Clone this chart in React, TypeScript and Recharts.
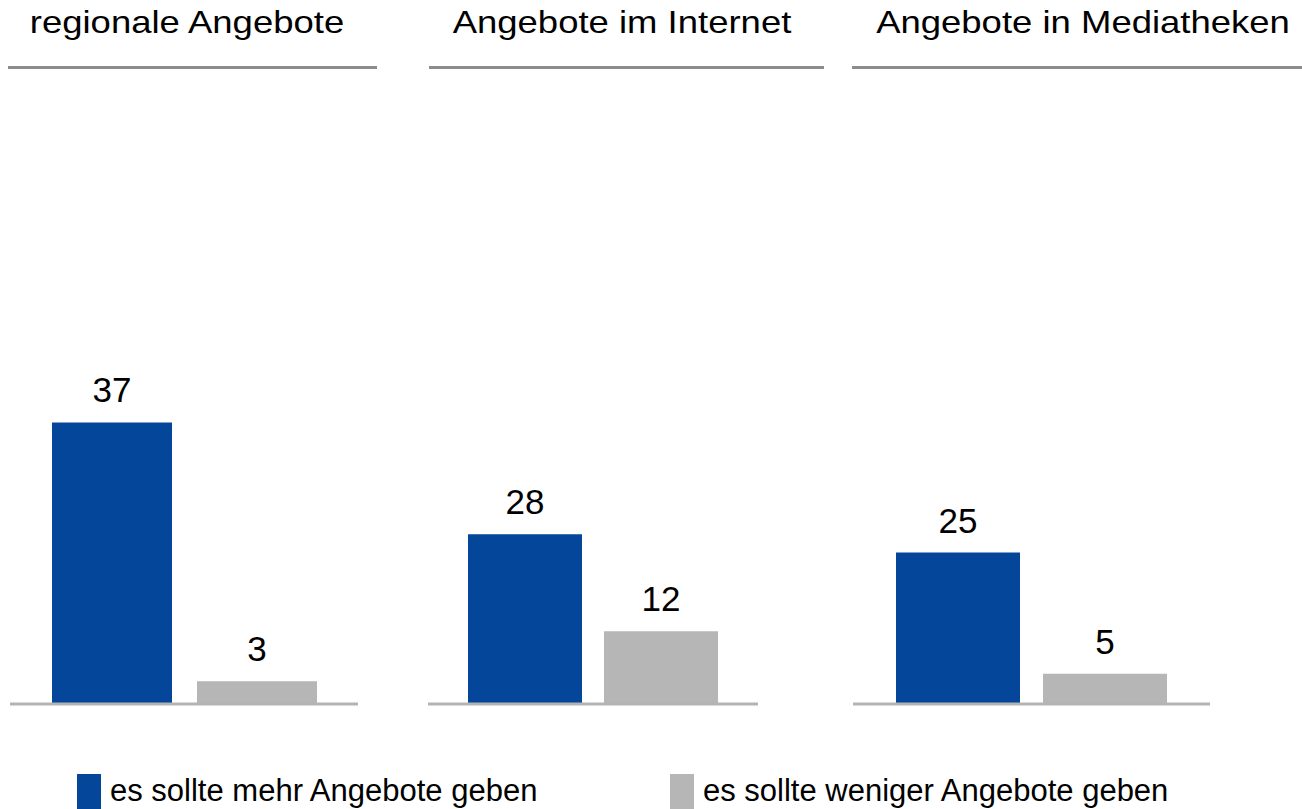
import React from "react";
import { Bar, BarChart, LabelList, XAxis, YAxis } from "recharts";

// survey answers in percent, one panel per offer type
const categories = ["regionale Angebote", "Angebote im Internet", "Angebote in Mediatheken"];
const moreValues = [37, 28, 25];
const lessValues = [3, 12, 5];
const seriesNames = ["es sollte mehr Angebote geben", "es sollte weniger Angebote geben"];

const BLUE = "#03469a";
const GRAY = "#b6b6b6";
const FONT = '"Liberation Sans", Arial, sans-serif';

// layout per panel (pixel geometry, not data)
const panels = [
  { left: 10, width: 348, barSize: 120, barGap: 25, yMax: 82, titleX: 187, lineLeft: 8, lineRight: 377 },
  { left: 428, width: 330, barSize: 114, barGap: 22, yMax: 103, titleX: 622, lineLeft: 429, lineRight: 824 },
  { left: 853, width: 357, barSize: 124, barGap: 23, yMax: 103, titleX: 1083, lineLeft: 852, lineRight: 1302 },
];

const PLOT_TOP = 80;
const PLOT_HEIGHT = 624;
const AXIS_HEIGHT = 8;

function Panel({ index }: { index: number }) {
  const p = panels[index];
  const data = [{ name: categories[index], more: moreValues[index], less: lessValues[index] }];
  return (
    <>
      <div
        style={{
          position: "absolute",
          left: p.titleX - 300,
          top: 6,
          width: 600,
          textAlign: "center",
          fontSize: 32,
          lineHeight: "32px",
          color: "#000",
          transform: "scaleX(1.14)",
          transformOrigin: "center",
          whiteSpace: "nowrap",
        }}
      >
        {categories[index]}
      </div>
      <div
        style={{
          position: "absolute",
          left: p.lineLeft,
          top: 66,
          width: p.lineRight - p.lineLeft,
          height: 3,
          background: "#8c8c8c",
        }}
      />
      <div style={{ position: "absolute", left: p.left, top: PLOT_TOP }}>
        <BarChart
          width={p.width}
          height={PLOT_HEIGHT + AXIS_HEIGHT}
          data={data}
          margin={{ top: 0, right: 0, bottom: 0, left: 0 }}
          barGap={p.barGap}
          barSize={p.barSize}
        >
          <XAxis
            dataKey="name"
            height={AXIS_HEIGHT}
            tick={false}
            tickLine={false}
            axisLine={{ stroke: "#b4b4b4", strokeWidth: 3 }}
          />
          <YAxis hide domain={[0, p.yMax]} />
          <Bar dataKey="more" name={seriesNames[0]} fill={BLUE} isAnimationActive={false}>
            <LabelList dataKey="more" position="top" offset={20} fill="#000" fontSize={35} fontFamily={FONT} />
          </Bar>
          <Bar dataKey="less" name={seriesNames[1]} fill={GRAY} isAnimationActive={false}>
            <LabelList dataKey="less" position="top" offset={20} fill="#000" fontSize={35} fontFamily={FONT} />
          </Bar>
        </BarChart>
      </div>
    </>
  );
}

function LegendItem({ left, color, label }: { left: number; color: string; label: string }) {
  return (
    <>
      <div style={{ position: "absolute", left, top: 774, width: 24, height: 35, background: color }} />
      <div
        style={{
          position: "absolute",
          left: left + 33,
          top: 773,
          fontSize: 31,
          lineHeight: "35px",
          whiteSpace: "nowrap",
          color: "#000",
        }}
      >
        {label}
      </div>
    </>
  );
}

export default function App() {
  return (
    <div
      style={{
        position: "absolute",
        left: 0,
        top: 0,
        width: 1302,
        height: 809,
        overflow: "hidden",
        background: "#fff",
        fontFamily: FONT,
      }}
    >
      {categories.map((c, i) => (
        <Panel key={c} index={i} />
      ))}
      <LegendItem left={77} color={BLUE} label={seriesNames[0]} />
      <LegendItem left={670} color={GRAY} label={seriesNames[1]} />
    </div>
  );
}
